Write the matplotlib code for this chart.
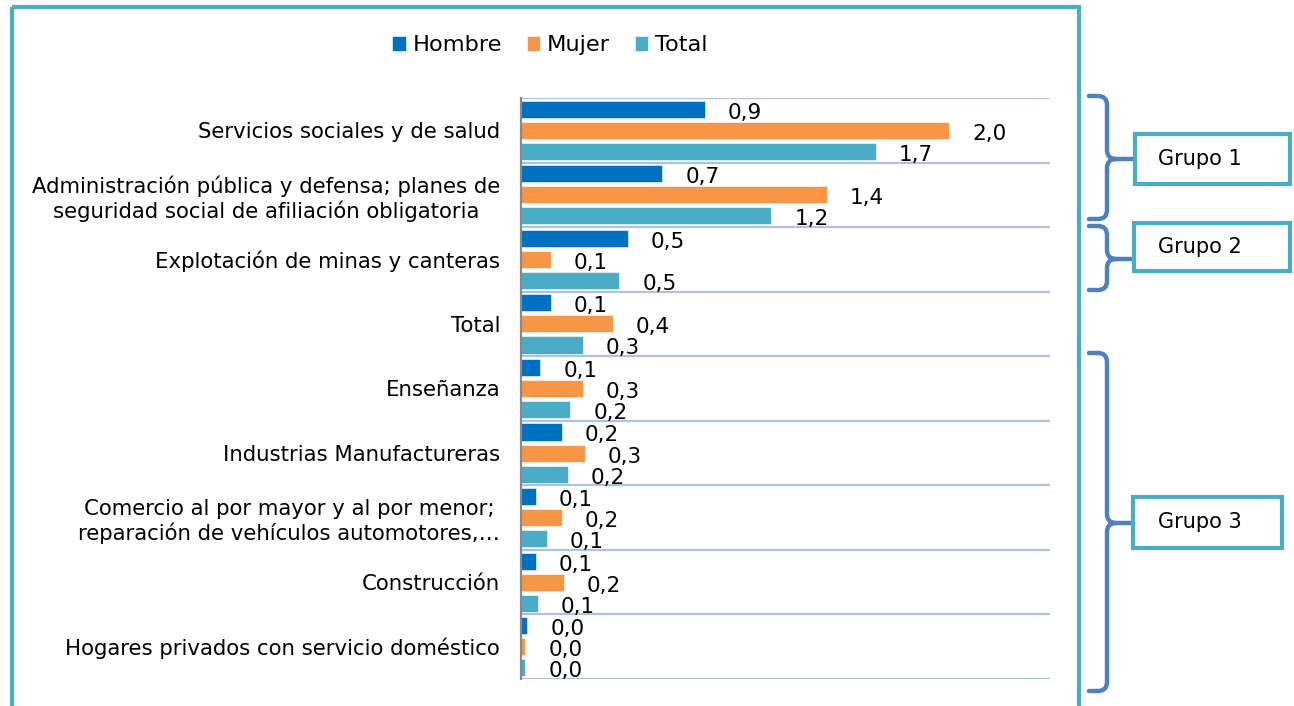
import matplotlib
matplotlib.use("Agg")
import matplotlib.pyplot as plt
from matplotlib.path import Path
from matplotlib.patches import PathPatch, Rectangle

plt.rcParams['font.family'] = ['DejaVu Sans']

categories = [
    "Servicios sociales y de salud",
    "Administración pública y defensa; planes de\nseguridad social de afiliación obligatoria",
    "Explotación de minas y canteras",
    "Total",
    "Enseñanza",
    "Industrias Manufactureras",
    "Comercio al por mayor y al por menor;\nreparación de vehículos automotores,…",
    "Construcción",
    "Hogares privados con servicio doméstico",
]
hombre = [0.86, 0.66, 0.50, 0.14, 0.09, 0.19, 0.07, 0.07, 0.03]
mujer = [2.00, 1.43, 0.14, 0.43, 0.29, 0.30, 0.19, 0.20, 0.02]
total = [1.66, 1.17, 0.46, 0.29, 0.23, 0.22, 0.12, 0.08, 0.02]
series_names = ["Hombre", "Mujer", "Total"]
groups = ["Grupo 1", "Grupo 2", "Grupo 3"]

colors = ["#0070c0", "#f79646", "#4bacc6"]
W, H = 1294, 706
fig = plt.figure(figsize=(W / 100, H / 100), dpi=100)

ax = fig.add_axes([521 / W, 1 - 679 / H, (1050 - 521) / W, (679 - 98) / H])
ax.set_facecolor("none")
n = len(categories)
ax.set_ylim(n, 0)
ax.set_xlim(0, (1050 - 521) / 214)

offs = [-0.326, 0.0, 0.326]
bh = 0.264
handles = []
for k, (vals, name) in enumerate(zip([hombre, mujer, total], series_names)):
    ys = [i + 0.5 + offs[k] for i in range(n)]
    b = ax.barh(ys, vals, height=bh, color=colors[k], edgecolor="white",
                linewidth=0.4, label=name, zorder=3)
    handles.append(b)
    for v, y in zip(vals, ys):
        ax.annotate(f"{v:.1f}".replace(".", ","), xy=(v, y), xytext=(16.5, -2.5),
                    textcoords="offset points", ha="left", va="center",
                    fontsize=15.5, color="black", zorder=4)

for i in range(n + 1):
    ax.axhline(i, color="#adc2e4", lw=1.6, zorder=1)

for s in ["top", "right", "bottom"]:
    ax.spines[s].set_visible(False)
ax.spines["left"].set_color("#898989")
ax.spines["left"].set_linewidth(1.6)
ax.spines["left"].set_zorder(5)
ax.set_xticks([])
ax.set_yticks([i + 0.5 for i in range(n)])
ax.set_yticklabels(categories, fontsize=15.3, multialignment="center")
ax.tick_params(axis="y", length=0, pad=15)

fig.legend(handles=handles, labels=series_names, loc="center",
           bbox_to_anchor=(550 / W, 1 - 45 / H), ncol=3, frameon=False,
           fontsize=16.2, handlelength=0.6, handleheight=0.65,
           handletextpad=0.3, columnspacing=1.1)

# overlay for frame, braces and group boxes (pixel coords)
ov = fig.add_axes([0, 0, 1, 1], zorder=10)
ov.set_xlim(0, W)
ov.set_ylim(H, 0)
ov.axis("off")
ov.patch.set_alpha(0)

ov.add_patch(Rectangle((12, 7), 1079 - 12, 760, fill=False,
                       edgecolor="#4bacc6", lw=3.0))


def brace(yt, ym, yb, xtip, x0=1089, xv=1107, r=9):
    verts = [(x0, yt), (xv - r, yt), (xv, yt), (xv, yt + r),
             (xv, ym - r), (xv, ym), (xv + r, ym), (xtip, ym),
             (xv + r, ym), (xv, ym), (xv, ym + r),
             (xv, yb - r), (xv, yb), (xv - r, yb), (x0, yb)]
    codes = [Path.MOVETO, Path.LINETO, Path.CURVE3, Path.CURVE3,
             Path.LINETO, Path.CURVE3, Path.CURVE3, Path.LINETO,
             Path.MOVETO, Path.CURVE3, Path.CURVE3,
             Path.LINETO, Path.CURVE3, Path.CURVE3, Path.LINETO]
    ov.add_patch(PathPatch(Path(verts, codes), fill=False,
                           edgecolor="#4f81bd", lw=3.2, capstyle="round",
                           joinstyle="round"))


brace(96, 159, 219, 1134)
brace(226, 259, 290, 1131)
brace(353, 523, 691, 1133)

boxes = [(1135, 134, 1290, 184), (1134, 223, 1290, 271), (1133, 497, 1282, 548)]
for (x1, y1, x2, y2), g in zip(boxes, groups):
    ov.add_patch(Rectangle((x1, y1), x2 - x1, y2 - y1, fill=True,
                           facecolor="white", edgecolor="#4bacc6", lw=3.0))
    ov.text(1158, (y1 + y2) / 2, g, ha="left", va="center", fontsize=15)

fig.savefig("out.png", dpi=100)
